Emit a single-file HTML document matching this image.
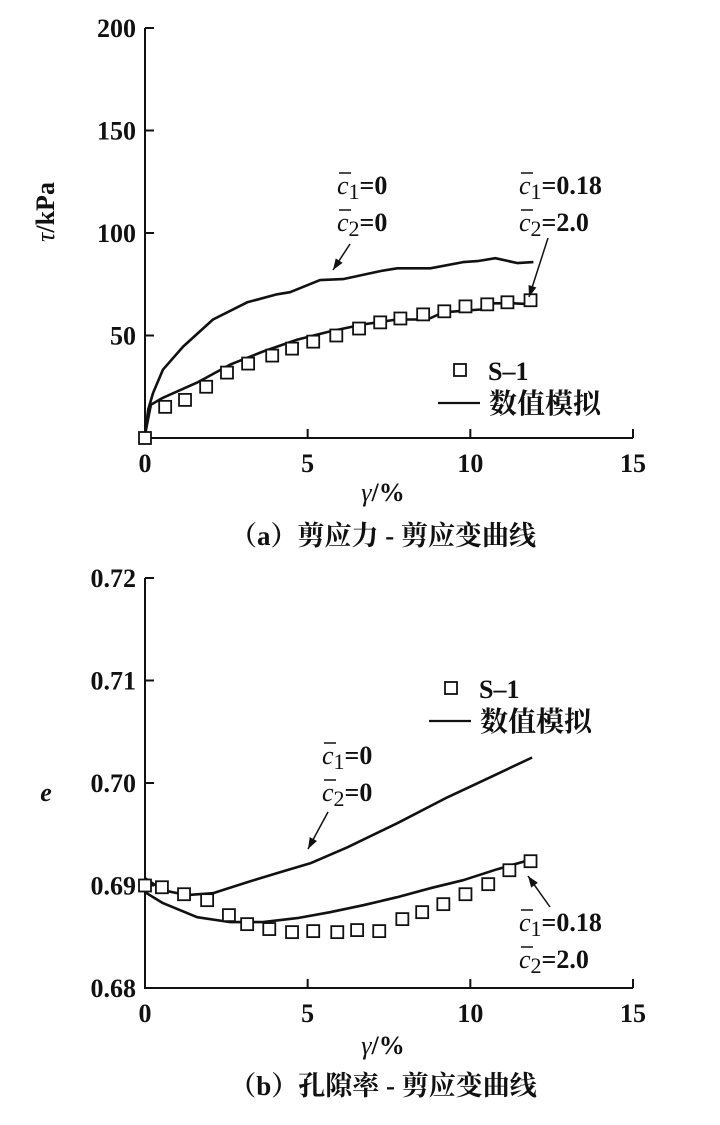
<!DOCTYPE html>
<html><head><meta charset="utf-8"><style>
html,body{margin:0;padding:0;background:#fff;}
svg{display:block;font-family:"Liberation Serif","Noto Serif CJK SC",serif;}
.t{font-size:26px;font-weight:bold;fill:#111;}
.c{font-family:"Liberation Serif","Noto Serif CJK SC",serif;font-size:27px;font-weight:bold;fill:#111;}
.lg{font-family:"Liberation Serif","Noto Serif CJK SC",serif;font-size:28px;font-weight:bold;fill:#111;}
</style></head><body>
<svg id="chart" width="720" height="1125" viewBox="0 0 720 1125" xmlns="http://www.w3.org/2000/svg">
<g id="top"></g>
<g id="bot"></g>
</svg>
<script>
// ---- top chart data ----
const topXTicks = [0,5,10,15];
const topYTicks = [50,100,150,200];
const topExpX = [0,0.62,1.23,1.88,2.52,3.17,3.91,4.52,5.17,5.88,6.58,7.23,7.85,8.55,9.2,9.85,10.52,11.14,11.85];
const topExpY = [0,15.2,18.6,25,31.9,36.3,40.2,43.6,47,50,53.4,56.4,58.3,60.3,61.8,64.2,65.2,66.2,67.2];
const topSim0X = [0,0.1,0.25,0.55,1.17,2.09,3.14,4.06,4.46,5.38,6.09,7.23,7.75,8.77,9.78,10.22,10.77,11.45,11.94];
const topSim0Y = [2.5,14,22,33.3,44.6,57.8,66.2,70.1,71.1,77,77.5,81.4,82.8,82.8,85.8,86.3,87.7,85.3,85.8];
const topSim1X = [0,0.18,0.55,1.6,2.62,3.63,4.68,5.69,6.71,7.75,8.68,9.17,10.31,10.71,11.32,11.94];
const topSim1Y = [1.5,16.2,19.6,27,35.8,42.2,48,52,55.4,57.8,57.8,61.3,62.7,65.7,65.7,65.2];
// ---- bottom chart data ----
const botXTicks = [0,5,10,15];
const botYTicks = [0.68,0.69,0.70,0.71,0.72];
const botYLabels = ["0.68","0.69","0.70","0.71","0.72"];
const botExpX = [0,0.52,1.2,1.91,2.58,3.14,3.82,4.52,5.17,5.91,6.52,7.2,7.91,8.52,9.17,9.85,10.55,11.2,11.85];
const botExpY = [0.6900,0.68983,0.68915,0.68857,0.68711,0.68623,0.68575,0.68545,0.68555,0.68545,0.68565,0.68555,0.68672,0.6874,0.68818,0.68915,0.69013,0.69149,0.69237];
const botSim0X = [0,0.55,1.29,2.09,3.14,4.15,5.08,6.22,7.75,9.29,10.6,11.9];
const botSim0Y = [0.69071,0.68954,0.68906,0.68925,0.69032,0.6913,0.69217,0.69373,0.69607,0.6986,0.70055,0.70249];
const botSim1X = [0,0.55,1.6,2.62,3.63,4.68,5.69,6.71,7.75,8.77,9.78,10.83,11.9];
const botSim1Y = [0.68935,0.68828,0.68691,0.68643,0.68643,0.68682,0.6874,0.68808,0.68886,0.68974,0.69052,0.69159,0.69256];

const NS="http://www.w3.org/2000/svg";
function mk(parent,tag,attrs,text){const e=document.createElementNS(NS,tag);for(const k in attrs)e.setAttribute(k,attrs[k]);if(text!==undefined)e.textContent=text;parent.appendChild(e);return e;}

function drawChart(g,cfg){
  const sx=v=>cfg.x0+(v-cfg.xmin)*(cfg.x1-cfg.x0)/(cfg.xmax-cfg.xmin);
  const sy=v=>cfg.y0-(v-cfg.ymin)*(cfg.y0-cfg.y1)/(cfg.ymax-cfg.ymin);
  let ax=mk(g,'path',{d:`M${cfg.x0},${cfg.y1} L${cfg.x0},${cfg.y0} L${cfg.x1},${cfg.y0}`,fill:'none',stroke:'#111','stroke-width':2});
  
  
  cfg.xt.forEach(v=>{
    const X=sx(v);
    if(v!==cfg.xmin){const t=mk(g,'line',{x1:X,y1:cfg.y0,x2:X,y2:cfg.y0-9,stroke:'#111','stroke-width':2});
    
    }
    const l=mk(g,'text',{x:X,y:cfg.y0+34,'text-anchor':'middle',class:'t'},String(v));
    
    
  });
  cfg.yt.forEach((v,i)=>{
    const Y=sy(v);
    if(v!==cfg.ymin){const t=mk(g,'line',{x1:cfg.x0,y1:Y,x2:cfg.x0+9,y2:Y,stroke:'#111','stroke-width':2});
    
    }
    const l=mk(g,'text',{x:cfg.x0-9,y:Y+9,'text-anchor':'end',class:'t'},cfg.yl?cfg.yl[i]:String(v));
    
    
  });
  const line=(xs,ys,name)=>{
    const p=mk(g,'path',{d:xs.map((x,i)=>(i?'L':'M')+sx(x).toFixed(1)+','+sy(ys[i]).toFixed(1)).join(' '),fill:'none',stroke:'#111','stroke-width':2.6,'stroke-linejoin':'round'});
    
    
  };
  line(cfg.s0x,cfg.s0y,'simulation-line-c0');
  line(cfg.s1x,cfg.s1y,'simulation-line-c018');
  cfg.ex.forEach((x,i)=>{
    const r=mk(g,'rect',{x:sx(x)-6,y:sy(cfg.ey[i])-6,width:12,height:12,fill:'#fff',stroke:'#111','stroke-width':1.8});
    
    
  });
}
function cbar(g,x,y,sub,val){
  const t=mk(g,'text',{x:x,y:y,class:'t'});
  
  
  mk(t,'tspan',{'font-style':'italic','font-weight':'normal'},'c');
  mk(t,'tspan',{'font-size':'22','font-weight':'normal',dy:5},sub);
  mk(t,'tspan',{dy:-5},'='+val);
  mk(g,'line',{x1:x+2,y1:y-21,x2:x+14,y2:y-21,stroke:'#111','stroke-width':1.5});
}
function arrow(g,x1,y1,x2,y2){
  const a=mk(g,'line',{x1,y1,x2,y2,stroke:'#111','stroke-width':1.5});
  
  
  const ang=Math.atan2(y2-y1,x2-x1),L=12,w=0.35;
  mk(g,'polygon',{points:`${x2},${y2} ${x2-L*Math.cos(ang-w)},${y2-L*Math.sin(ang-w)} ${x2-L*Math.cos(ang+w)},${y2-L*Math.sin(ang+w)}`,fill:'#111'});
}
function legend(g,x,y){
  const r=mk(g,'rect',{x:x-6,y:y-6,width:12,height:12,fill:'#fff',stroke:'#111','stroke-width':1.8});
  
  
  const t=mk(g,'text',{x:x+28,y:y+10,class:'t'},'S–1');
  
  
  mk(g,'line',{x1:x-22,y1:y+33,x2:x+20,y2:y+33,stroke:'#111','stroke-width':2.2});
  const t2=mk(g,'text',{x:x+29,y:y+43,class:'lg'},'数值模拟');
  
  
}
const gt=document.getElementById('top');
drawChart(gt,{x0:145,x1:633,xmin:0,xmax:15,y0:438,y1:28,ymin:0,ymax:200,xt:topXTicks,yt:topYTicks,ex:topExpX,ey:topExpY,s0x:topSim0X,s0y:topSim0Y,s1x:topSim1X,s1y:topSim1Y});
cbar(gt,337,194,'1','0');cbar(gt,337,231,'2','0');
cbar(gt,519,194,'1','0.18');cbar(gt,519,231,'2','2.0');
arrow(gt,350,244,333,270);arrow(gt,548,238,529,297);
legend(gt,460,370);
let e1=mk(gt,'text',{x:383,y:501,'text-anchor':'middle',class:'t'});


mk(e1,'tspan',{'font-style':'italic','font-weight':'normal'},'γ');mk(e1,'tspan',{},'/%');
let e2=mk(gt,'text',{x:0,y:0,'text-anchor':'middle',class:'t',transform:'translate(54,212) rotate(-90)'});


mk(e2,'tspan',{'font-style':'italic','font-weight':'normal'},'τ');mk(e2,'tspan',{},'/kPa');
let c1=mk(gt,'text',{x:383,y:545,'text-anchor':'middle',class:'c'},'（a）剪应力 - 剪应变曲线');



const gb=document.getElementById('bot');
drawChart(gb,{x0:145,x1:633,xmin:0,xmax:15,y0:988,y1:578,ymin:0.68,ymax:0.72,xt:botXTicks,yt:botYTicks,yl:botYLabels,ex:botExpX,ey:botExpY,s0x:botSim0X,s0y:botSim0Y,s1x:botSim1X,s1y:botSim1Y});
cbar(gb,322,764,'1','0');cbar(gb,322,801,'2','0');
cbar(gb,519,931,'1','0.18');cbar(gb,519,968,'2','2.0');
arrow(gb,328,812,308,849);arrow(gb,550,907,528,876);
legend(gb,451,688);
let e3=mk(gb,'text',{x:383,y:1054,'text-anchor':'middle',class:'t'});


mk(e3,'tspan',{'font-style':'italic','font-weight':'normal'},'γ');mk(e3,'tspan',{},'/%');
let e4=mk(gb,'text',{x:46,y:801,'text-anchor':'middle',class:'t','font-style':'italic','font-weight':'normal'},'e');


let c2=mk(gb,'text',{x:383,y:1095,'text-anchor':'middle',class:'c'},'（b）孔隙率 - 剪应变曲线');


</script>
</body></html>
